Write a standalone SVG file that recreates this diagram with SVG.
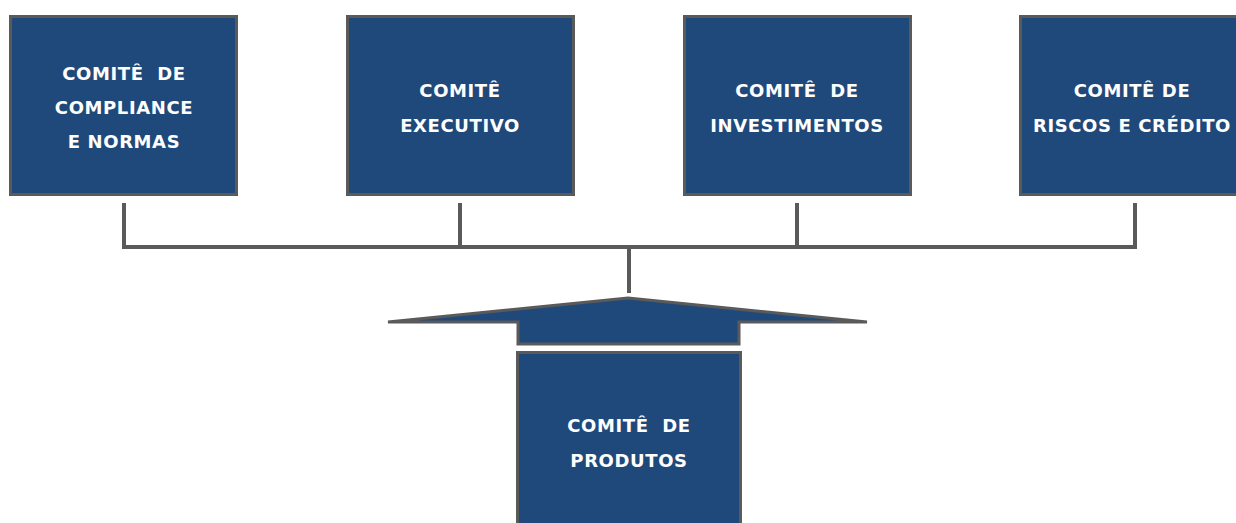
<svg xmlns="http://www.w3.org/2000/svg" width="1236" height="523" viewBox="0 0 1236 523">
<style>
.box{fill:#20497B;stroke:#5A5A5A;stroke-width:3}
.lbl{fill:#FFFFFF;font-family:"DejaVu Sans",sans-serif;font-weight:bold;font-size:18px;letter-spacing:0.6px;text-anchor:middle;white-space:pre}
.con{fill:none;stroke:#5A5A5A;stroke-width:4}
</style>
<rect width="1236" height="523" fill="#FFFFFF"/>
<g id="connectors">
<path class="con" d="M124,203 V247 H1135 V203 M460,203 V247 M797,203 V247 M629,247 V293"/>
</g>
<g id="n-compliance">
<rect class="box" x="10.5" y="16.5" width="226" height="178"/>
<text class="lbl" x="124" y="80">COMITÊ  DE</text>
<text class="lbl" x="124" y="114">COMPLIANCE</text>
<text class="lbl" x="124" y="148">E NORMAS</text>
</g>
<g id="n-executivo">
<rect class="box" x="347.5" y="16.5" width="226" height="178"/>
<text class="lbl" x="460" y="97">COMITÊ</text>
<text class="lbl" x="460" y="132">EXECUTIVO</text>
</g>
<g id="n-investimentos">
<rect class="box" x="684.5" y="16.5" width="226" height="178"/>
<text class="lbl" x="797" y="97">COMITÊ  DE</text>
<text class="lbl" x="797" y="132">INVESTIMENTOS</text>
</g>
<g id="n-riscos">
<rect class="box" x="1020.5" y="16.5" width="226" height="178"/>
<text class="lbl" x="1132" y="97">COMITÊ DE</text>
<text class="lbl" x="1132" y="132">RISCOS E CRÉDITO</text>
</g>
<g id="n-arrow">
<polygon class="box" stroke-width="4" stroke-linejoin="miter" points="628,298 867,322 739,322 739,344 518,344 518,322 388,322"/>
</g>
<g id="n-produtos">
<rect class="box" x="517.5" y="352.5" width="223" height="190"/>
<text class="lbl" x="629" y="432">COMITÊ  DE</text>
<text class="lbl" x="629" y="467">PRODUTOS</text>
</g>
</svg>
